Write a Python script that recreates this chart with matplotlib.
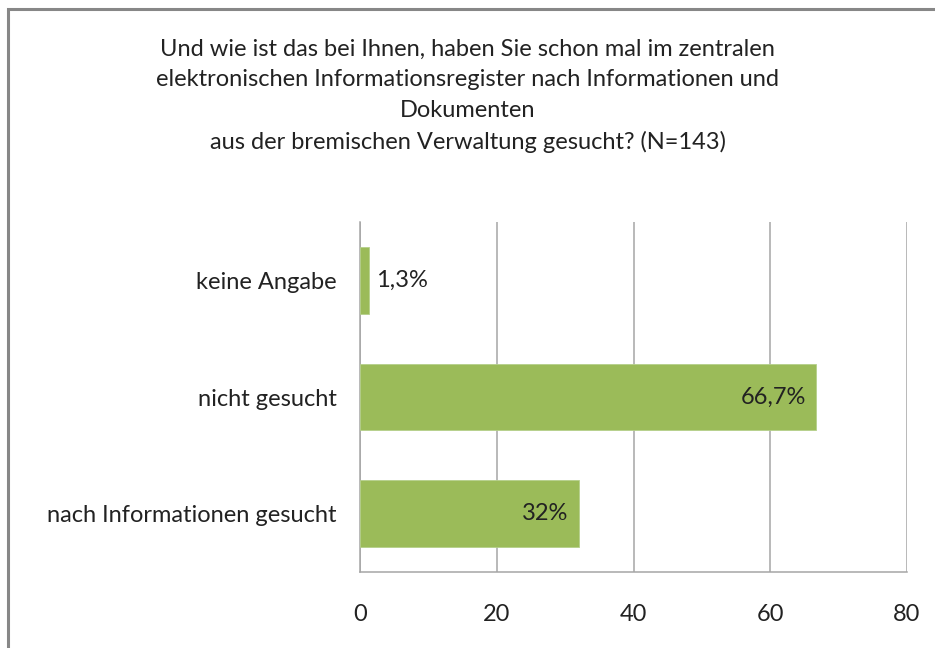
import matplotlib
matplotlib.use("Agg")
import matplotlib.pyplot as plt
from matplotlib.patches import Rectangle

categories = ["nach Informationen gesucht", "nicht gesucht", "keine Angabe"]
values = [32.0, 66.7, 1.3]
value_labels = ["32%", "66,7%", "1,3%"]
xticks = [0, 20, 40, 60, 80]
title = ("Und wie ist das bei Ihnen, haben Sie schon mal im zentralen\n"
         "elektronischen Informationsregister nach Informationen und\n"
         "Dokumenten\n"
         "aus der bremischen Verwaltung gesucht? (N=143)")

plt.rcParams['font.family'] = ['Lato', 'DejaVu Sans']

W, H = 935, 648
fig = plt.figure(figsize=(W / 100, H / 100), dpi=100)
fig.patch.set_facecolor("white")

# outer chart frame (extends beyond the image at right/bottom)
fig.add_artist(Rectangle((8 / W, -0.05), 1.2, 1 - 9 / H + 0.05, transform=fig.transFigure,
                         fill=False, edgecolor="#878787", linewidth=2.2))

left, right, top, bottom = 360, 907, 222, 572
ax = fig.add_axes([left / W, 1 - bottom / H, (right - left) / W, (bottom - top) / H])

txt_c = "#222222"
fs = 17
grid_c = "#a6a6a6"
y = list(range(len(categories)))
ax.barh(y, values, height=0.57, color="#9bbb59", edgecolor="#b5d08a", linewidth=0.6, zorder=3)
ax.set_xlim(0, 80)
ax.set_ylim(-0.5, len(categories) - 0.5)
ax.set_xticks(xticks)
ax.set_xticklabels([str(t) for t in xticks], fontsize=fs, color=txt_c)
ax.set_yticks(y)
ax.set_yticklabels(categories, fontsize=fs, color=txt_c)
ax.tick_params(axis="x", length=0, pad=23)
ax.tick_params(axis="y", length=0, pad=17)
ax.grid(axis="x", color=grid_c, linewidth=1.1, zorder=0)
for s in ["top", "right"]:
    ax.spines[s].set_visible(False)
for s in ["left", "bottom"]:
    ax.spines[s].set_color(grid_c)
    ax.spines[s].set_linewidth(1.1)

for yi, v, lab in zip(y, values, value_labels):
    if v < 10:
        ax.text(v + 1.1, yi, lab, va="center", ha="left", fontsize=fs, color=txt_c, zorder=4)
    else:
        ax.text(v - 1.5, yi, lab, va="center", ha="right", fontsize=fs, color=txt_c, zorder=4)

fig.text(0.5, 1 - 96 / H, title, ha="center", va="center", fontsize=fs,
         color=txt_c, linespacing=1.56)

fig.savefig("out.png", dpi=100)
